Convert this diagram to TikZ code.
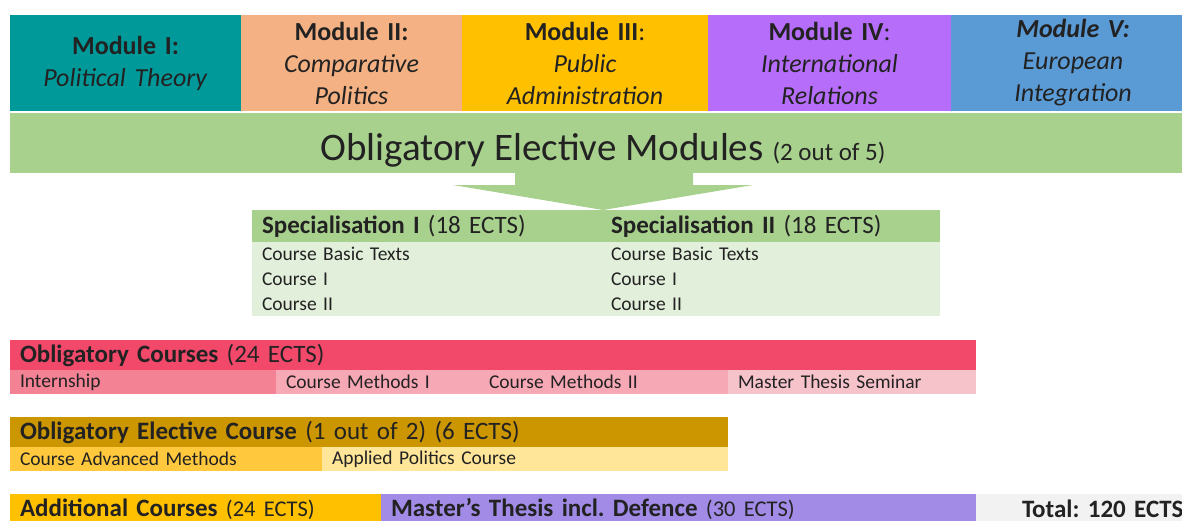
\documentclass[tikz,border=0pt]{standalone}
\usepackage{fontspec}
\setmainfont{Carlito}
\usetikzlibrary{positioning}
\frenchspacing

\definecolor{inkgray}{HTML}{222222}
\definecolor{modteal}{HTML}{00999A}
\definecolor{modpeach}{HTML}{F4B183}
\definecolor{modgold}{HTML}{FFC000}
\definecolor{modviolet}{HTML}{B66EFA}
\definecolor{modblue}{HTML}{5B9BD5}
\definecolor{elecgreen}{HTML}{A9D18E}
\definecolor{elecpale}{HTML}{E2EFDA}
\definecolor{oblred}{HTML}{F2496B}
\definecolor{oblrose}{HTML}{F28294}
\definecolor{oblpink}{HTML}{F7A8B5}
\definecolor{oblblush}{HTML}{F7C3CB}
\definecolor{optochre}{HTML}{CC9600}
\definecolor{optamber}{HTML}{FFC83D}
\definecolor{optcream}{HTML}{FFE699}
\definecolor{thesislav}{HTML}{A18BE6}
\definecolor{totalgray}{HTML}{F2F2F2}

\newcommand\modsize{\fontsize{26}{32}\selectfont}
\newcommand\titlesize{\fontsize{39}{44}\selectfont}
\newcommand\headsize{\fontsize{25}{30}\selectfont}
\newcommand\subsize{\fontsize{19.5}{25}\selectfont}
\newcommand\notesize{\fontsize{22.5}{26}\selectfont}

\tikzset{
  cell/.style={anchor=north west,inner xsep=10pt,inner ysep=0pt,outer sep=0pt,
    align=left,text=inkgray},
  modcell/.style={cell,align=center,minimum height=96pt,font=\modsize},
  headcell/.style={cell,minimum height=30pt,font=\headsize},
  subcell/.style={cell,minimum height=24pt,font=\subsize},
}

\begin{document}
\begin{tikzpicture}[x=1pt,y=-1pt]
\useasboundingbox (0,0) rectangle (1182,520);
\clip (0,0) rectangle (1182,520);
% the five elective modules
\node[modcell,fill=modteal,minimum width=231pt,text width=211pt] (modI) at (10,15)
  {\textbf{Module I:}\\\textit{Political Theory}};
\node[modcell,fill=modpeach,minimum width=221pt,text width=201pt] (modII) at (241,15)
  {\textbf{Module II:}\\\textit{Comparative}\\\textit{Politics}};
\node[modcell,fill=modgold,minimum width=246pt,text width=226pt] (modIII) at (462,15)
  {\textbf{Module III}:\\\textit{Public}\\\textit{Administration}};
\node[modcell,fill=modviolet,minimum width=243pt,text width=223pt] (modIV) at (708,15)
  {\textbf{Module IV}:\\\textit{International}\\\textit{Relations}};
\node[modcell,fill=modblue,minimum width=244pt,text width=224pt] (modV) at (951,15)
  {\textbf{\textit{Module V:}}\\\textit{European}\\\textit{Integration}};
% banner and arrow
\node[cell,fill=elecgreen,minimum width=1172pt,minimum height=60pt,inner xsep=0pt]
  (banner) at (10,113) {};
\node[text=inkgray,font=\titlesize,inner sep=0pt,anchor=base] (bannertext)
  at ([xshift=7pt,yshift=-3pt]banner.center |- 0,157)
  {Obligatory Elective Modules {\fontsize{25}{30}\selectfont (2 out of 5)}};
\fill[elecgreen] (515,172) -- (515,185) -- (453,185) -- (603,210) -- (753,185)
  -- (693,185) -- (693,172) -- cycle;
% specialisations
\node[cell,fill=elecgreen,minimum width=349pt,minimum height=32pt,text width=329pt,
  font=\headsize] (specI) at (252,210) {\textbf{Specialisation I} (18 ECTS)};
\node[cell,fill=elecgreen,minimum width=339pt,minimum height=32pt,text width=319pt,
  font=\headsize] (specII) at (601,210) {\textbf{Specialisation II} (18 ECTS)};
\node[cell,fill=elecpale,minimum width=349pt,minimum height=74pt,text width=329pt,
  font=\subsize] (specIbody) at (252,242) {Course Basic Texts\\Course I\\Course II};
\node[cell,fill=elecpale,minimum width=339pt,minimum height=74pt,text width=319pt,
  font=\subsize] (specIIbody) at (601,242) {Course Basic Texts\\Course I\\Course II};
% obligatory courses
\node[headcell,fill=oblred,minimum width=966pt,text width=946pt] (oblig) at (10,340)
  {\textbf{Obligatory Courses} (24 ECTS)};
\node[subcell,fill=oblrose,minimum width=266pt,text width=246pt] (intern) at (10,370)
  {Internship};
\node[subcell,fill=oblpink,minimum width=203pt,text width=183pt] (methI) at (276,370)
  {Course Methods I};
\node[subcell,fill=oblpink,minimum width=249pt,text width=229pt] (methII) at (479,370)
  {Course Methods II};
\node[subcell,fill=oblblush,minimum width=248pt,text width=228pt] (seminar) at (728,370)
  {Master Thesis Seminar};
% obligatory elective course
\node[headcell,fill=optochre,minimum width=718pt,text width=698pt] (optional) at (10,417)
  {\textbf{Obligatory Elective Course} (1 out of 2) (6 ECTS)};
\node[subcell,fill=optamber,minimum width=312pt,text width=292pt] (advanced) at (10,447)
  {Course Advanced Methods};
\node[subcell,fill=optcream,minimum width=406pt,text width=386pt] (applied) at (322,447)
  {Applied Politics Course};
% last row
\node[headcell,fill=modgold,minimum width=371pt,text width=351pt] (additional) at (10,494)
  {\textbf{Additional Courses} {\notesize(24 ECTS)}};
\node[headcell,fill=thesislav,minimum width=595pt,text width=575pt] (thesis) at (381,494)
  {\textbf{Master’s Thesis incl. Defence} {\notesize(30 ECTS)}};
\fill[totalgray] (976,494) rectangle (1182,524);
\node[headcell,text width=220pt,inner xsep=0pt] (total) at (1022,494)
  {\textbf{Total: 120 ECTS}};
\end{tikzpicture}
\end{document}
